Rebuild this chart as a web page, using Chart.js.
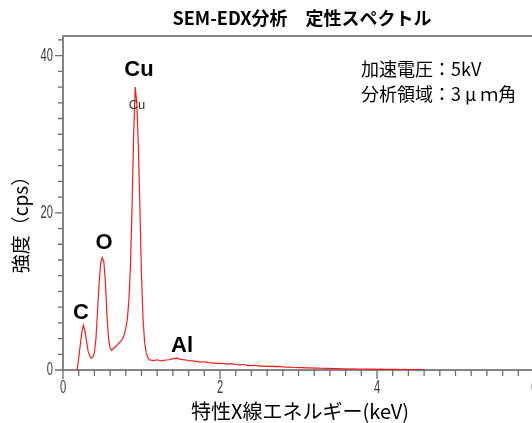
<!DOCTYPE html>
<html>
<head>
<meta charset="utf-8">
<script src="https://cdn.jsdelivr.net/npm/chart.js@4.4.1/dist/chart.umd.min.js"></script>
<style>
  html, body { margin: 0; padding: 0; background: #fff; overflow: hidden; }
  #wrap { width: 545px; height: 423px; }
</style>
</head>
<body>
<div id="wrap"><canvas id="spec"></canvas></div>
<script>
// EDX spectrum: energy (keV) and intensity (cps)
const energy = [
  0.18, 0.20, 0.22, 0.24, 0.26, 0.28, 0.30, 0.32, 0.34, 0.36,
  0.38, 0.40, 0.42, 0.44, 0.46, 0.48, 0.50, 0.52, 0.54, 0.56,
  0.58, 0.60, 0.62, 0.64, 0.66, 0.68, 0.70, 0.72, 0.74, 0.76,
  0.78, 0.80, 0.82, 0.84, 0.86, 0.88, 0.90, 0.92, 0.94, 0.96,
  0.98, 1.00, 1.02, 1.04, 1.06, 1.08, 1.10,
  1.15, 1.20, 1.25, 1.30, 1.35, 1.40, 1.45, 1.50, 1.55, 1.60,
  1.65, 1.70, 1.75, 1.80, 1.85, 1.90, 1.95, 2.00, 2.05, 2.10,
  2.15, 2.20, 2.25, 2.30, 2.35, 2.40, 2.45, 2.50, 2.55, 2.60,
  2.65, 2.70, 2.75, 2.80, 2.85, 2.90, 2.95, 3.00, 3.05, 3.10,
  3.15, 3.20, 3.25, 3.30, 3.35, 3.40, 3.45, 3.50, 3.55, 3.60,
  3.65, 3.70, 3.75, 3.80, 3.85, 3.90, 3.95, 4.00, 4.05, 4.10,
  4.15, 4.20, 4.25, 4.30, 4.35, 4.40, 4.45, 4.50, 4.55, 4.60
];
const counts = [
  0.0, 1.5, 3.2, 4.8, 5.7, 5.0, 3.6, 2.4, 1.8, 1.5,
  1.6, 2.2, 4.0, 7.5, 11.0, 13.6, 14.3, 13.8, 11.2, 7.0,
  4.0, 2.8, 2.5, 2.7, 2.9, 3.1, 3.3, 3.5, 3.7, 4.0,
  4.5, 5.3, 6.5, 9.0, 13.5, 21.0, 30.0, 36.0, 34.0, 28.5,
  20.5, 12.0, 6.5, 3.5, 2.2, 1.6, 1.3,
  1.2, 1.3, 1.15, 1.25, 1.3, 1.45, 1.5, 1.35, 1.3, 1.2,
  1.15, 1.1, 1.0, 1.05, 0.95, 0.9, 0.85, 0.85, 0.8, 0.75,
  0.8, 0.7, 0.65, 0.7, 0.6, 0.55, 0.6, 0.5, 0.5, 0.45,
  0.5, 0.42, 0.45, 0.4, 0.35, 0.38, 0.32, 0.3, 0.3, 0.27,
  0.28, 0.24, 0.25, 0.22, 0.2, 0.2, 0.18, 0.17, 0.15, 0.16,
  0.13, 0.14, 0.12, 0.12, 0.1, 0.11, 0.1, 0.09, 0.1, 0.08,
  0.08, 0.07, 0.08, 0.06, 0.07, 0.06, 0.05, 0.06, 0.05, 0.05
];
const peakNames = ['Cu', 'O', 'C', 'Al'];
const infoLines = ['加速電圧：5kV', '分析領域：3 μ ｍ角'];
const xLabelTicks = [0, 2, 4, 6];
const yLabelTicks = [0, 20, 40];
const xMinorStep = 0.2;
const yMinorStep = 2;

const axisGrey = '#858585';
const jpFont = "'Noto Sans CJK JP', 'Noto Sans', sans-serif";

// narrow tick numbers: ordinary sans squeezed sideways
function narrowText(ctx, txt, x, y, align) {
  ctx.save();
  ctx.translate(x, y);
  ctx.scale(0.62, 1);
  ctx.textAlign = align;
  ctx.fillText(txt, 0, 0);
  ctx.restore();
}

// ticks, frame line, titles and peak labels
const decor = {
  id: 'decor',
  afterDraw(chart) {
    const ctx = chart.ctx, a = chart.chartArea;
    const xs = chart.scales.x, ys = chart.scales.y;
    ctx.save();
    ctx.strokeStyle = axisGrey;
    ctx.lineWidth = 2;
    ctx.beginPath();
    ctx.moveTo(a.left - 1, a.top);
    ctx.lineTo(a.right + 20, a.top);
    ctx.stroke();

    ctx.lineWidth = 1.3;
    ctx.strokeStyle = '#6e6e6e';
    ctx.beginPath();
    for (let k = 0; k <= 30; k++) {
      const v = k * xMinorStep;
      const len = xLabelTicks.some(t => Math.abs(t - v) < 1e-6) ? 9 : 6;
      const px = xs.getPixelForValue(v);
      ctx.moveTo(px, a.bottom); ctx.lineTo(px, a.bottom + len);
    }
    for (let k = 0; k * yMinorStep <= ys.max; k++) {
      const v = k * yMinorStep;
      const len = yLabelTicks.includes(v) ? 8 : 5;
      const py = ys.getPixelForValue(v);
      ctx.moveTo(a.left, py); ctx.lineTo(a.left - len, py);
    }
    ctx.stroke();

    ctx.fillStyle = '#3a3a3a';
    ctx.textBaseline = 'middle';
    ctx.font = "18px 'Liberation Sans', Arial, sans-serif";
    xLabelTicks.forEach(v => narrowText(ctx, String(v), xs.getPixelForValue(v), a.bottom + 18, 'center'));
    yLabelTicks.forEach(v => narrowText(ctx, String(v), a.left - 10, ys.getPixelForValue(v), 'right'));

    ctx.fillStyle = '#000';
    ctx.textAlign = 'center';
    ctx.font = "bold 18px " + jpFont;
    ctx.fillText('SEM-EDX分析　定性スペクトル', 302, 18);

    ctx.font = "20px " + jpFont;
    ctx.fillText('特性X線エネルギー(keV)', 300, 411);

    ctx.save();
    ctx.translate(21, 220);
    ctx.rotate(-Math.PI / 2);
    ctx.font = "19px " + jpFont;
    ctx.fillText('強度（cps）', 0, 0);
    ctx.restore();

    ctx.textAlign = 'left';
    ctx.font = "18px " + jpFont;
    ctx.fillText(infoLines[0], 361, 69);
    ctx.fillText(infoLines[1], 361, 94);

    // peak labels placed in data units
    const spots = [[0.968, 38.2], [0.522, 16.2], [0.229, 7.26], [1.516, 3.06]];
    ctx.textAlign = 'center';
    ctx.font = "bold 22px 'Liberation Sans', Arial, sans-serif";
    peakNames.forEach((name, i) => {
      ctx.fillText(name, xs.getPixelForValue(spots[i][0]), ys.getPixelForValue(spots[i][1]));
    });
    ctx.font = "13px 'Liberation Sans', Arial, sans-serif";
    ctx.fillStyle = '#333';
    ctx.fillText('Cu', xs.getPixelForValue(0.943), ys.getPixelForValue(33.7));
    ctx.restore();
  }
};

new Chart(document.getElementById('spec'), {
  type: 'scatter',
  data: {
    datasets: [{
      data: energy.map((e, i) => ({x: e, y: counts[i]})),
      showLine: true,
      borderColor: '#ff1a1a',
      borderWidth: 1.2,
      pointRadius: 0,
      tension: 0
    }]
  },
  options: {
    responsive: true,
    maintainAspectRatio: false,
    animation: false,
    layout: {padding: {top: 36, right: 11, left: 0, bottom: 0}},
    plugins: {legend: {display: false}, tooltip: {enabled: false}},
    scales: {
      x: {
        type: 'linear',
        min: 0, max: 6,
        afterFit(scale) { scale.height = 53; },
        border: {color: axisGrey, width: 2},
        grid: {drawOnChartArea: false, drawTicks: false},
        ticks: {display: false}
      },
      y: {
        min: 0, max: 42.5,
        afterFit(scale) { scale.width = 63; },
        border: {color: axisGrey, width: 2},
        grid: {drawOnChartArea: false, drawTicks: false},
        ticks: {display: false}
      }
    }
  },
  plugins: [decor]
});
</script>
</body>
</html>
